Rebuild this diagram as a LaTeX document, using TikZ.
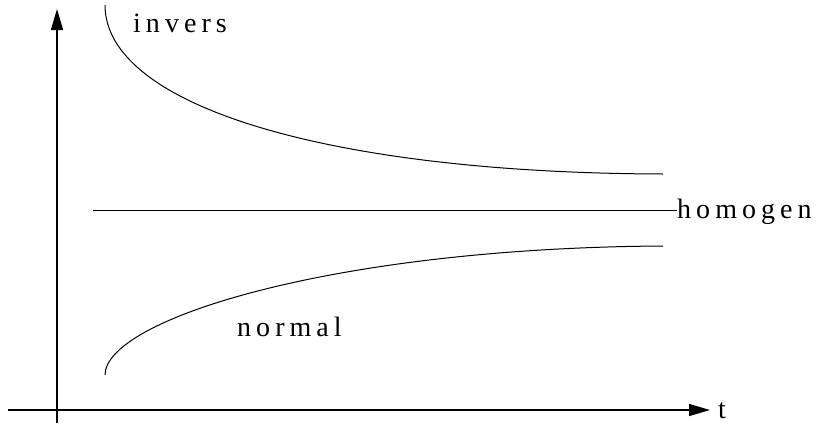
\documentclass[tikz,border=0pt]{standalone}
\usepackage{fontspec}
\setmainfont{Liberation Serif}
\newfontfamily\spacedfont[LetterSpace=18]{Liberation Serif}
\usetikzlibrary{arrows.meta,positioning}

\tikzset{
  axis/.style={line width=1.3pt,-{Triangle[length=21pt,width=12pt]}},
  curve/.style={line width=1pt},
  lbl/.style={inner sep=0pt,anchor=base west,font=\spacedfont\fontsize{28}{33}\selectfont},
}

\begin{document}
\begin{tikzpicture}[x=1pt,y=-1pt]
  \useasboundingbox (0,0) rectangle (821,423);
  % axes
  \coordinate (ybot) at (57,423);
  \coordinate (ytop) at (57,9);
  \coordinate (xleft) at (8,410);
  \coordinate (xright) at (710,410);
  \draw[axis] (ybot) -- (ytop);
  \draw[axis] (xleft) -- (xright);
  \node[lbl,font=\fontsize{28}{33}\selectfont] (t) at (718,418) {t};
  % the three cases
  \draw[curve] (105,5) .. controls (105,105) and (325,173) .. (663,174);
  \coordinate (h0) at (93,210);
  \node[lbl] (homogen) at (677,218) {homogen};
  \draw[curve] (h0) -- (h0 -| homogen.west);
  \draw[curve] (105,375) .. controls (105,320) and (330,248) .. (663,246);
  \node[lbl] (invers) at (133,32) {invers};
  \node[lbl] (normal) at (237,336) {normal};
\end{tikzpicture}
\end{document}
